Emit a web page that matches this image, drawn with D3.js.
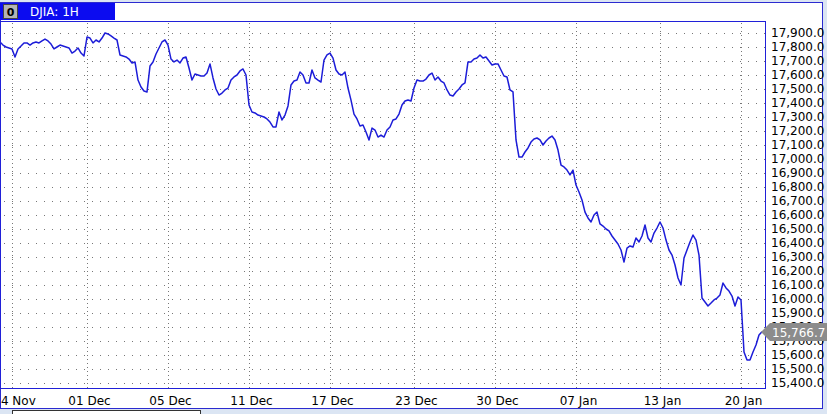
<!DOCTYPE html>
<html>
<head>
<meta charset="utf-8">
<script src="https://cdn.jsdelivr.net/npm/d3@7"></script>
<style>
  html, body { margin: 0; padding: 0; background: #dbe5f3; }
  svg { display: block; font-family: "DejaVu Sans", Verdana, sans-serif; }
</style>
</head>
<body>
<svg id="chart"></svg>
<script>
const width = 827;
const height = 414;

// hourly DJIA closes
const values = [
  17836,17814,17800,17793,17786,17729,17786,17807,17829,17829,
  17814,17829,17836,17829,17843,17857,17843,17821,17786,17800,
  17814,17807,17800,17793,17757,17771,17793,17757,17736,17871,
  17864,17829,17850,17836,17864,17900,17893,17879,17864,17850,
  17743,17736,17729,17714,17686,17693,17564,17514,17486,17479,
  17664,17693,17750,17793,17836,17850,17814,17714,17693,17707,
  17686,17721,17729,17650,17564,17607,17600,17593,17593,17614,
  17679,17579,17500,17457,17471,17493,17507,17564,17586,17600,
  17629,17643,17600,17386,17336,17329,17314,17307,17300,17286,
  17264,17229,17229,17336,17279,17314,17379,17529,17557,17564,
  17621,17600,17543,17543,17636,17579,17564,17550,17707,17743,
  17757,17721,17636,17607,17600,17621,17507,17421,17321,17286,
  17236,17243,17193,17136,17221,17207,17157,17171,17157,17207,
  17229,17279,17286,17321,17386,17414,17421,17414,17507,17564,
  17557,17557,17571,17600,17614,17564,17586,17557,17543,17493,
  17457,17450,17479,17500,17529,17543,17693,17693,17714,17721,
  17743,17721,17729,17700,17671,17679,17679,17636,17593,17586,
  17493,17479,17136,17014,17014,17050,17079,17121,17143,17150,
  17136,17100,17129,17150,17164,17136,17064,16957,16943,16921,
  16886,16921,16814,16764,16707,16621,16579,16550,16600,16621,
  16536,16521,16500,16486,16450,16421,16393,16350,16264,16364,
  16379,16371,16436,16407,16450,16529,16436,16407,16471,16507,
  16550,16507,16421,16350,16314,16243,16150,16100,16293,16350,
  16407,16457,16421,16314,16007,15979,15950,15971,15993,16007,
  16029,16114,16079,16057,16021,15950,16014,15993,15621,15564,
  15564,15621,15671,15743,15766.7
];

const dateTickIndex = [4, 29, 56, 83, 110, 138, 165, 192, 220, 247];
const dateTickLabels = ["24 Nov", "01 Dec", "05 Dec", "11 Dec", "17 Dec", "23 Dec", "30 Dec", "07 Jan", "13 Jan", "20 Jan"];
const priceTicks = d3.range(15400, 17901, 100);
const lastValue = values[values.length - 1];

const plot = { left: 1, top: 21, right: 766, bottom: 388 };

const svg = d3.select("#chart")
  .attr("width", width)
  .attr("height", height);

// outer panel
svg.append("rect")
  .attr("x", 0.5).attr("y", 2.5)
  .attr("width", 822).attr("height", 406)
  .attr("fill", "#fff")
  .attr("stroke", "#2b2bd0");

// scrollbar strip at the bottom
svg.append("rect")
  .attr("x", 12.5).attr("y", 410.5)
  .attr("width", 188).attr("height", 10)
  .attr("fill", "#fff")
  .attr("stroke", "#333");

// title tab
svg.append("rect")
  .attr("x", 0).attr("y", 3)
  .attr("width", 115).attr("height", 17)
  .attr("fill", "#0c0cf0");
svg.append("rect")
  .attr("x", 3.5).attr("y", 4.5)
  .attr("width", 14).attr("height", 14)
  .attr("fill", "#b4b4b4")
  .attr("stroke", "#444");
svg.append("text")
  .attr("x", 10.5).attr("y", 16)
  .attr("text-anchor", "middle")
  .attr("font-size", 11).attr("font-weight", "bold")
  .attr("fill", "#000")
  .text("0");
svg.append("text")
  .attr("x", 30).attr("y", 16)
  .attr("font-size", 12)
  .attr("fill", "#fff")
  .text("DJIA: 1H");

const xScale = d3.scaleLinear()
  .domain([0, values.length - 1])
  .range([0, 762]);

const yScale = d3.scaleLinear()
  .domain([15400, 17900])
  .range([383, 33]);

svg.append("defs").append("clipPath")
  .attr("id", "clip")
  .append("rect")
  .attr("x", plot.left).attr("y", plot.top)
  .attr("width", plot.right - plot.left).attr("height", plot.bottom - plot.top);

// dotted grid
svg.append("g")
  .selectAll("line")
  .data(priceTicks)
  .enter()
  .append("line")
  .attr("x1", plot.left + 3).attr("x2", plot.right)
  .attr("y1", d => Math.round(yScale(d)) + 0.5)
  .attr("y2", d => Math.round(yScale(d)) + 0.5)
  .attr("stroke", "#777")
  .attr("stroke-dasharray", "1,7");

svg.append("g")
  .selectAll("line")
  .data(dateTickIndex)
  .enter()
  .append("line")
  .attr("x1", d => Math.round(xScale(d)) + 0.5)
  .attr("x2", d => Math.round(xScale(d)) + 0.5)
  .attr("y1", plot.top + 2).attr("y2", plot.bottom)
  .attr("stroke", "#777")
  .attr("stroke-dasharray", "1,3");

// plot border
svg.append("rect")
  .attr("x", plot.left - 0.5).attr("y", plot.top + 0.5)
  .attr("width", plot.right - plot.left).attr("height", plot.bottom - plot.top)
  .attr("fill", "none")
  .attr("stroke", "#2020d8");

const line = d3.line()
  .x((d, i) => xScale(i))
  .y(d => yScale(d));

svg.append("path")
  .datum(values)
  .attr("clip-path", "url(#clip)")
  .attr("fill", "none")
  .attr("stroke", "#1c1cd8")
  .attr("stroke-width", 1.5)
  .attr("stroke-linejoin", "round")
  .attr("d", line);

// price axis on the right
const yAxis = d3.axisRight(yScale)
  .tickValues(priceTicks)
  .tickFormat(d3.format(",.1f"))
  .tickSize(0)
  .tickPadding(0);

svg.append("g")
  .attr("transform", `translate(771, 0)`)
  .call(yAxis)
  .call(g => g.select(".domain").remove())
  .selectAll("text")
  .attr("font-family", "'DejaVu Sans', Verdana, sans-serif")
  .attr("font-size", 12)
  .attr("fill", "#000");

// date axis
const xAxis = d3.axisBottom(xScale)
  .tickValues(dateTickIndex)
  .tickFormat((d, i) => dateTickLabels[i])
  .tickSize(0)
  .tickPadding(0);

svg.append("g")
  .attr("transform", `translate(2, 396)`)
  .call(xAxis)
  .call(g => g.select(".domain").remove())
  .selectAll("text")
  .attr("font-family", "'DejaVu Sans', Verdana, sans-serif")
  .attr("font-size", 12)
  .attr("fill", "#000");

// last value tag
const ly = Math.round(yScale(lastValue));
svg.append("path")
  .attr("d", `M761,${ly} L770,${ly - 9} L827,${ly - 9} L827,${ly + 9} L770,${ly + 9} Z`)
  .attr("fill", "#8c8c8c");
svg.append("text")
  .attr("x", 772).attr("y", ly + 4.5)
  .attr("font-size", 12)
  .attr("fill", "#fff")
  .text(d3.format(",.1f")(lastValue));
</script>
</body>
</html>
